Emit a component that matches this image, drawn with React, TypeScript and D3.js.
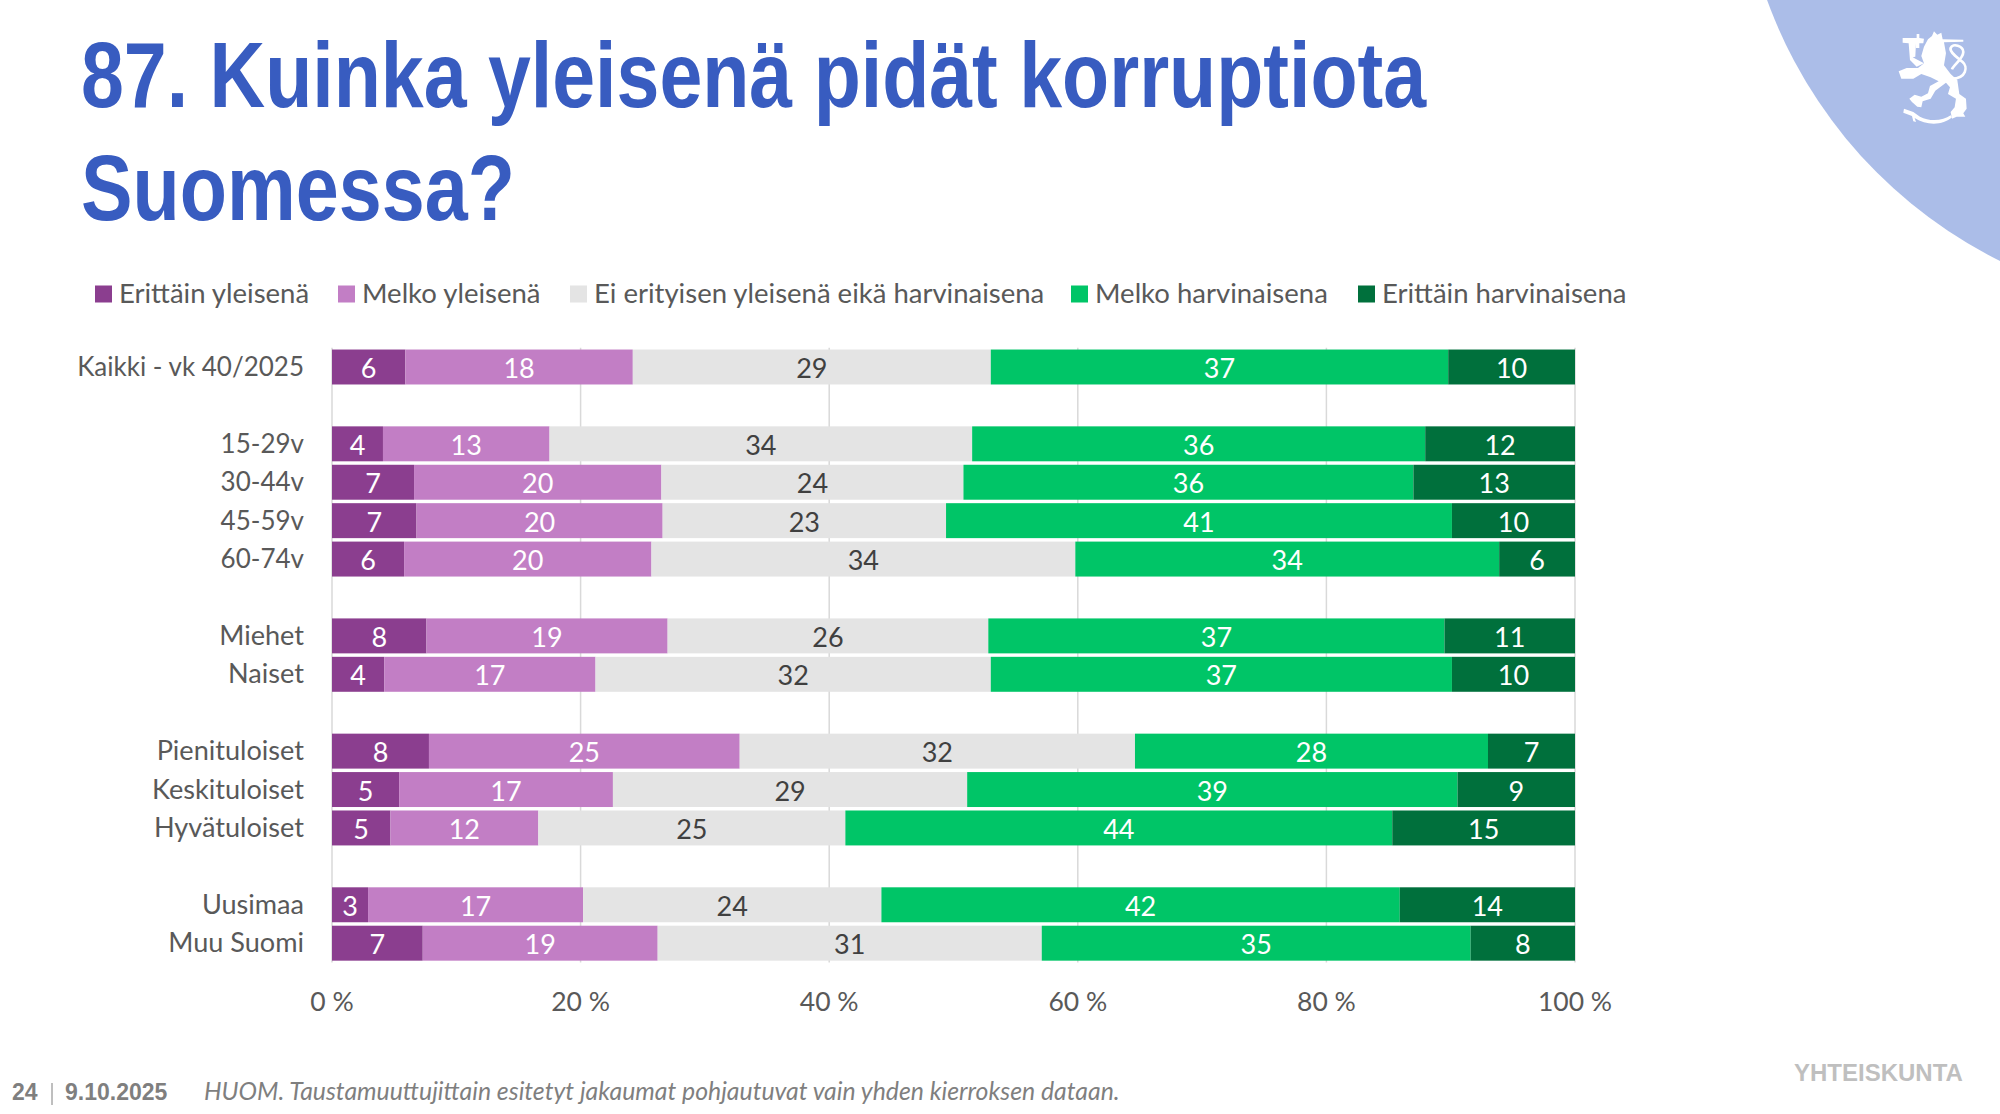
import { useEffect, useRef } from 'react';
import * as d3 from 'd3';

const categories = [
  'Kaikki - vk 40/2025', '', '15-29v', '30-44v', '45-59v', '60-74v', ' ', 'Miehet', 'Naiset', '  ',
  'Pienituloiset', 'Keskituloiset', 'Hyvätuloiset', '   ', 'Uusimaa', 'Muu Suomi',
];
const seriesNames = [
  'Erittäin yleisenä', 'Melko yleisenä', 'Ei erityisen yleisenä eikä harvinaisena',
  'Melko harvinaisena', 'Erittäin harvinaisena',
];
const seriesColors = ['#8b3e8f', '#c27ec5', '#e4e4e4', '#00c567', '#00703c'];
const labelColors = ['#ffffff', '#ffffff', '#404040', '#ffffff', '#ffffff'];

// one list per series, same order as the categories (empty rows are null)
const veryCommon = [5.9, null, 4.1, 6.6, 6.8, 5.8, null, 7.6, 4.2, null, 7.8, 5.4, 4.7, null, 2.9, 7.3];
const fairlyCommon = [18.3, null, 13.4, 19.9, 19.8, 19.9, null, 19.4, 17.0, null, 25.0, 17.2, 11.9, null, 17.3, 18.9];
const neither = [28.8, null, 34.0, 24.3, 22.8, 34.1, null, 25.8, 31.8, null, 31.8, 28.5, 24.7, null, 24.0, 30.9];
const fairlyRare = [36.8, null, 36.45, 36.2, 40.7, 34.1, null, 36.7, 37.1, null, 28.4, 39.45, 44.0, null, 41.7, 34.5];
const veryRare = [10.2, null, 12.05, 13.0, 9.9, 6.1, null, 10.5, 9.9, null, 7.0, 9.45, 14.7, null, 14.1, 8.4];

const xTicks = [0, 20, 40, 60, 80, 100];
const legendX = [95, 338, 570, 1071, 1358];

const labelFont = 'Lato, sans-serif';
const headFont = '"Liberation Sans", Arial, sans-serif';

export default function App() {
  const svgRef = useRef<SVGSVGElement>(null);

  useEffect(() => {
    if (!svgRef.current) return;
    const svg = d3.select(svgRef.current);
    svg.selectAll('*').remove();

    // corner decoration
    svg.append('circle').attr('cx', 2209).attr('cy', -160).attr('r', 470).attr('fill', '#abbde8');
    const lion = svg.append('g').attr('transform', 'translate(1700,0) scale(0.3333)').attr('fill', '#ffffff');
    lion.append('path').attr('d',
      'M696 108 L702 94 L712 104 L724 98 L728 118 L790 119 L790 125 L732 127 L738 160 L732 196 L752 222 L772 240 L778 282 L798 296 L800 326 L790 340 L796 350 L770 350 L756 356 L752 336 L764 322 L768 296 L744 282 L750 262 L738 248 L706 272 L692 296 L668 304 L664 322 L652 320 L636 306 L628 296 L644 284 L664 290 L684 280 L690 258 L716 244 L692 232 L664 222 L640 236 L604 236 L596 214 L620 204 L654 204 L672 190 L664 168 L672 140 L684 118 Z');
    lion.append('path').attr('d',
      'M608 114 L650 114 L650 102 L658 102 L658 114 L672 116 L670 130 L658 130 L658 144 L648 144 L648 130 L646 170 L638 172 L672 190 L650 200 L630 180 L626 130 L608 128 Z');
    lion.append('path').attr('d', 'M612 326 L640 336 L660 350 C690 366 730 362 752 346 L756 352 C730 376 680 378 644 354 L648 366 L640 364 L636 348 L610 338 Z');
    lion.append('path').attr('fill', 'none').attr('stroke', '#ffffff').attr('stroke-width', 8)
      .attr('d', 'M756 236 C800 236 804 200 788 186 C770 170 748 156 752 144 C758 128 790 138 790 156 C790 176 760 196 756 208');

    // title
    svg.append('text').attr('x', 81).attr('y', 107).attr('textLength', 1345).attr('lengthAdjust', 'spacingAndGlyphs')
      .attr('font-family', headFont).attr('font-weight', 700).attr('font-size', 93).attr('fill', '#385cc0')
      .text('87. Kuinka yleisenä pidät korruptiota');
    svg.append('text').attr('x', 81).attr('y', 220).attr('textLength', 434).attr('lengthAdjust', 'spacingAndGlyphs')
      .attr('font-family', headFont).attr('font-weight', 700).attr('font-size', 93).attr('fill', '#385cc0')
      .text('Suomessa?');

    // legend
    const legend = svg.append('g').selectAll('g').data(seriesNames).join('g')
      .attr('transform', (_, i) => `translate(${legendX[i]}, 294)`);
    legend.append('rect').attr('y', -8.5).attr('width', 17).attr('height', 17).attr('fill', (_, i) => seriesColors[i]);
    legend.append('text').attr('x', 24).attr('y', 9).attr('font-family', labelFont).attr('font-size', 27.5)
      .attr('fill', '#595959').text((d) => d);

    const x = d3.scaleLinear().domain([0, 100]).range([332, 1575]);
    const y = d3.scaleBand().domain(categories).range([347.8, 962.4]).paddingInner(0.09).paddingOuter(0.045);

    // gridlines
    svg.append('g').selectAll('line').data(xTicks).join('line')
      .attr('x1', (d) => x(d)).attr('x2', (d) => x(d))
      .attr('y1', 347.8).attr('y2', 962.4)
      .attr('stroke', '#d9d9d9').attr('stroke-width', 1.5);

    // x axis labels
    svg.append('g').selectAll('text').data(xTicks).join('text')
      .attr('x', (d) => x(d)).attr('y', 1011).attr('text-anchor', 'middle')
      .attr('font-family', labelFont).attr('font-size', 26.5).attr('fill', '#595959')
      .text((d) => `${d} %`);

    // category labels, digits run wider in this font than in the original one
    svg.append('g').selectAll('text').data(categories.filter((c) => c.trim() !== '')).join('text')
      .attr('x', 304).attr('y', (d) => (y(d) || 0) + y.bandwidth() / 2 + 9).attr('text-anchor', 'end')
      .attr('font-family', labelFont).attr('font-size', (d) => (/\d/.test(d) ? 26 : 27.1)).attr('fill', '#595959')
      .text((d) => d);

    // stacked bars
    const rows = categories.map((name, i) => ({
      name,
      s0: veryCommon[i] ?? 0, s1: fairlyCommon[i] ?? 0, s2: neither[i] ?? 0, s3: fairlyRare[i] ?? 0, s4: veryRare[i] ?? 0,
    }));
    const keys = ['s0', 's1', 's2', 's3', 's4'];
    const stacked = d3.stack<any>().keys(keys)(rows.filter((r) => r.name.trim() !== ''));

    stacked.forEach((layer, si) => {
      const g = svg.append('g');
      g.selectAll('rect').data(layer).join('rect')
        .attr('x', (d) => x(d[0])).attr('width', (d) => x(d[1]) - x(d[0]))
        .attr('y', (d) => y(d.data.name) || 0).attr('height', y.bandwidth())
        .attr('fill', seriesColors[si]);
      g.selectAll('text').data(layer).join('text')
        .attr('x', (d) => (x(d[0]) + x(d[1])) / 2)
        .attr('y', (d) => (y(d.data.name) || 0) + y.bandwidth() / 2 + 11)
        .attr('text-anchor', 'middle').attr('font-family', labelFont).attr('font-size', 27)
        .attr('fill', labelColors[si])
        .text((d) => Math.round(d[1] - d[0]));
    });

    // footer
    svg.append('text').attr('x', 12).attr('y', 1100).attr('font-family', headFont).attr('font-weight', 700)
      .attr('font-size', 23).attr('fill', '#7f7f7f').text('24');
    svg.append('line').attr('x1', 52).attr('x2', 52).attr('y1', 1083).attr('y2', 1105).attr('stroke', '#7f7f7f').attr('stroke-width', 1);
    svg.append('text').attr('x', 65).attr('y', 1100).attr('font-family', headFont).attr('font-weight', 700)
      .attr('font-size', 23).attr('fill', '#7f7f7f').text('9.10.2025');
    svg.append('text').attr('x', 204).attr('y', 1100).attr('font-family', labelFont).attr('font-style', 'italic')
      .attr('font-size', 24.8).attr('fill', '#7f7f7f')
      .text('HUOM. Taustamuuttujittain esitetyt jakaumat pohjautuvat vain yhden kierroksen dataan.');
    svg.append('text').attr('x', 1794).attr('y', 1081).attr('font-family', headFont).attr('font-weight', 700)
      .attr('font-size', 24).attr('fill', '#bfbfbf').text('YHTEISKUNTA');
  }, []);

  return (
    <div style={{ position: 'absolute', left: 0, top: 0 }}>
      <svg ref={svgRef} width={2000} height={1114} style={{ display: 'block', background: '#ffffff' }} />
    </div>
  );
}
